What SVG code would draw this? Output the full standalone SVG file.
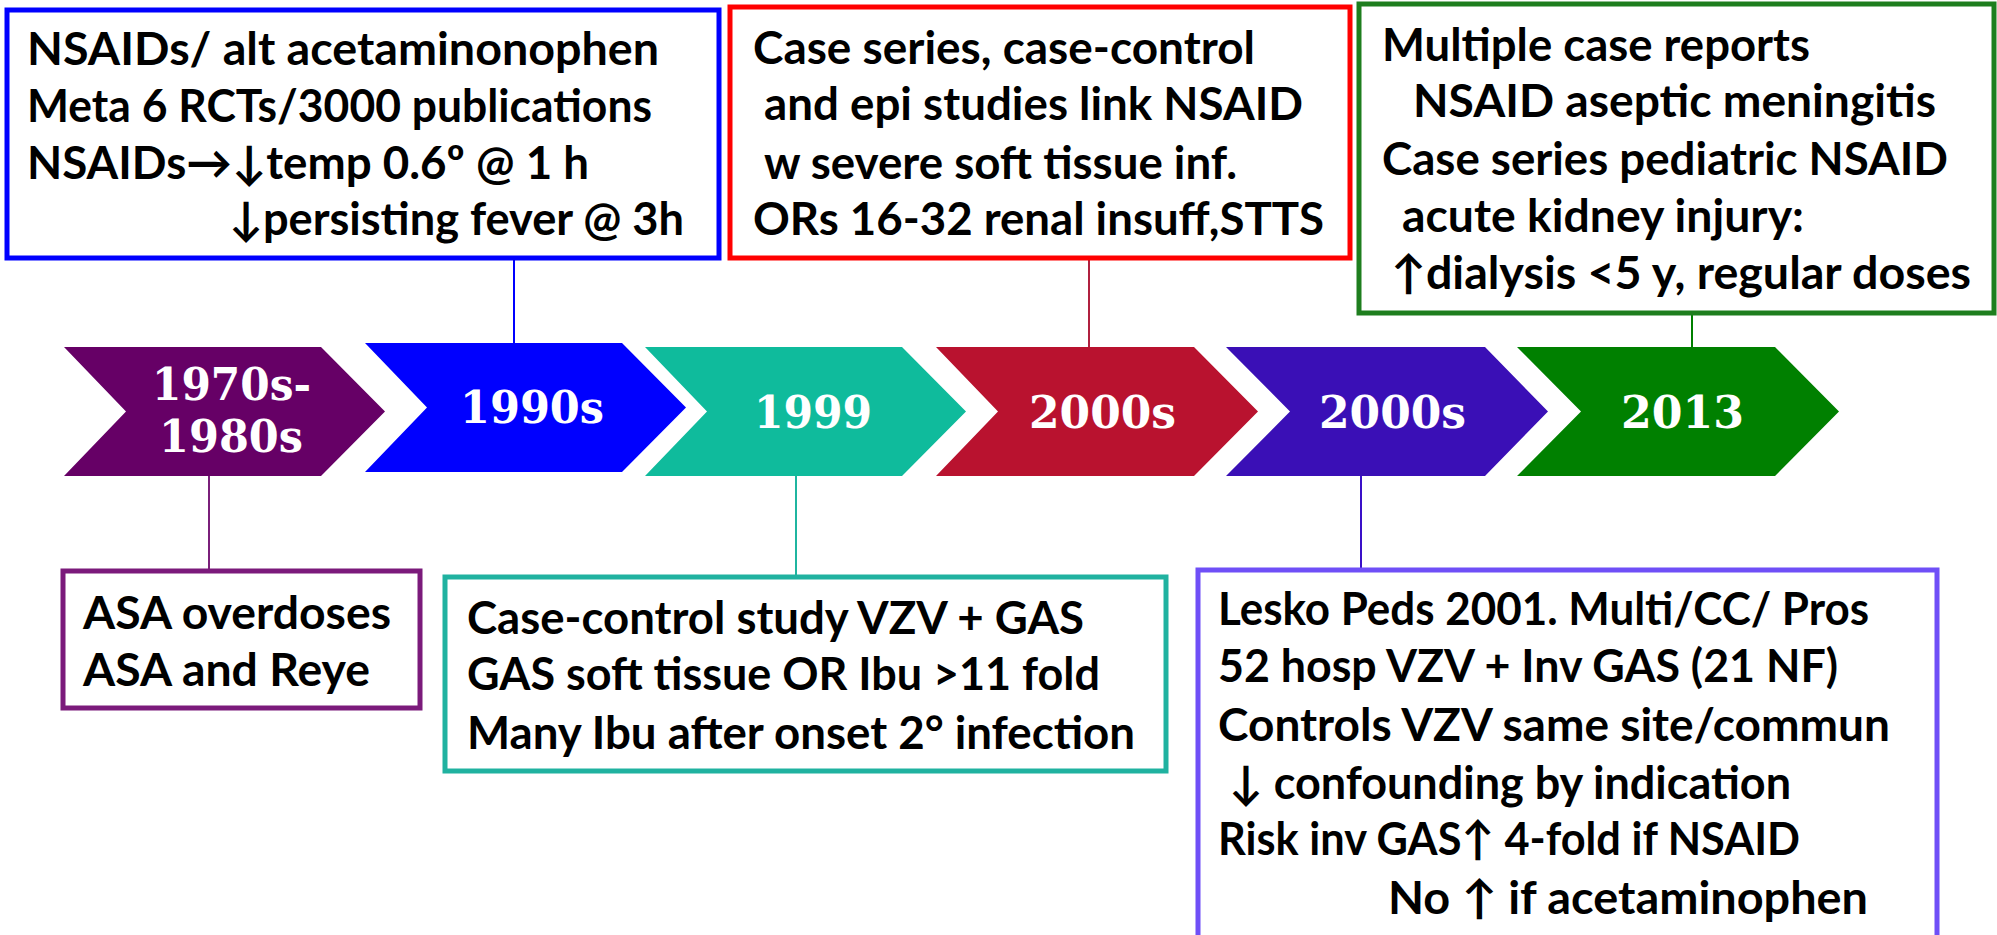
<svg xmlns="http://www.w3.org/2000/svg" width="1997" height="935" viewBox="0 0 1997 935">
<style>
.t{font-family:Lato,"Liberation Sans","DejaVu Sans",sans-serif;font-weight:bold;font-size:46px;fill:#000}
.c{font-family:"DejaVu Serif","Liberation Serif",serif;font-weight:bold;font-size:45px;fill:#fff}
.box{fill:#fff;stroke-width:5}
.ln{stroke-width:2;fill:none}
</style>
<rect width="1997" height="935" fill="#fff"/>

<g id="connectors">
<line class="ln" x1="209" y1="476" x2="209" y2="571" stroke="#7a1f7a"/>
<line class="ln" x1="514" y1="259" x2="514" y2="343" stroke="#0000ff"/>
<line class="ln" x1="796" y1="476" x2="796" y2="576" stroke="#1fb5a0"/>
<line class="ln" x1="1089" y1="258" x2="1089" y2="347" stroke="#b0203f"/>
<line class="ln" x1="1361" y1="476" x2="1361" y2="569" stroke="#3a10c8"/>
<line class="ln" x1="1692" y1="257" x2="1692" y2="347" stroke="#008000"/>
</g>

<g id="chev-1970s">
<path d="M64,347 H321 L385,411.5 L321,476 H64 L126,411.5 Z" fill="#660066"/>
<text class="c" x="152" y="400" textLength="159" lengthAdjust="spacingAndGlyphs">1970s-</text>
<text class="c" x="159" y="452" textLength="144" lengthAdjust="spacingAndGlyphs">1980s</text>
</g>
<g id="chev-1990s">
<path d="M365,343 H622 L686,407.5 L622,472 H365 L427,407.5 Z" fill="#0000ff"/>
<text class="c" x="460" y="423" textLength="144" lengthAdjust="spacingAndGlyphs">1990s</text>
</g>
<g id="chev-1999">
<path d="M645,347 H902 L966,411.5 L902,476 H645 L707,411.5 Z" fill="#0fbb9c"/>
<text class="c" x="754" y="428" textLength="118" lengthAdjust="spacingAndGlyphs">1999</text>
</g>
<g id="chev-2000s-a">
<path d="M936,347 H1194 L1258,411.5 L1194,476 H936 L998,411.5 Z" fill="#b9122f"/>
<text class="c" x="1029" y="428" textLength="147" lengthAdjust="spacingAndGlyphs">2000s</text>
</g>
<g id="chev-2000s-b">
<path d="M1226,347 H1485 L1548,411.5 L1485,476 H1226 L1290,411.5 Z" fill="#3a0fb6"/>
<text class="c" x="1319" y="428" textLength="147" lengthAdjust="spacingAndGlyphs">2000s</text>
</g>
<g id="chev-2013">
<path d="M1517,347 H1775 L1839,411.5 L1775,476 H1517 L1581,411.5 Z" fill="#008000"/>
<text class="c" x="1621" y="428" textLength="123" lengthAdjust="spacingAndGlyphs">2013</text>
</g>

<g id="box-1990s">
<rect class="box" x="7" y="10" width="712" height="248" stroke="#0000ff"/>
<text class="t" x="27" y="65" textLength="632" lengthAdjust="spacingAndGlyphs">NSAIDs/ alt  acetaminonophen</text>
<text class="t" x="27" y="122" textLength="625" lengthAdjust="spacingAndGlyphs">Meta 6 RCTs/3000 publications</text>
<text class="t" x="27" y="179" textLength="562" lengthAdjust="spacingAndGlyphs">NSAIDs→↓temp 0.6º @ 1 h</text>
<text class="t" x="229" y="235" textLength="455" lengthAdjust="spacingAndGlyphs">↓persisting fever @ 3h</text>
</g>

<g id="box-2000s-a">
<rect class="box" x="730" y="7" width="620" height="251" stroke="#ff0000"/>
<text class="t" x="753" y="64" textLength="502" lengthAdjust="spacingAndGlyphs">Case series, case-control</text>
<text class="t" x="764" y="120" textLength="539" lengthAdjust="spacingAndGlyphs">and epi studies link NSAID</text>
<text class="t" x="764" y="179" textLength="473" lengthAdjust="spacingAndGlyphs">w severe soft tissue inf.</text>
<text class="t" x="753" y="235" textLength="571" lengthAdjust="spacingAndGlyphs">ORs 16-32 renal insuff,STTS</text>
</g>

<g id="box-2013">
<rect class="box" x="1359" y="4" width="635" height="309" stroke="#1e7e1e"/>
<text class="t" x="1382" y="61" textLength="428" lengthAdjust="spacingAndGlyphs">Multiple case reports</text>
<text class="t" x="1413" y="117" textLength="523" lengthAdjust="spacingAndGlyphs">NSAID aseptic meningitis</text>
<text class="t" x="1382" y="175" textLength="566" lengthAdjust="spacingAndGlyphs">Case series pediatric NSAID</text>
<text class="t" x="1402" y="232" textLength="402" lengthAdjust="spacingAndGlyphs">acute kidney injury:</text>
<text class="t" x="1391" y="289" textLength="580" lengthAdjust="spacingAndGlyphs">↑dialysis &lt;5 y, regular doses</text>
</g>

<g id="box-1970s">
<rect class="box" x="63" y="571" width="357" height="137" stroke="#7b1a7b"/>
<text class="t" x="83" y="629" textLength="308" lengthAdjust="spacingAndGlyphs">ASA overdoses</text>
<text class="t" x="83" y="686" textLength="287" lengthAdjust="spacingAndGlyphs">ASA and Reye</text>
</g>

<g id="box-1999">
<rect class="box" x="445" y="577" width="721" height="194" stroke="#20b2a0"/>
<text class="t" x="467" y="634" textLength="617" lengthAdjust="spacingAndGlyphs">Case-control study VZV + GAS</text>
<text class="t" x="467" y="690" textLength="633" lengthAdjust="spacingAndGlyphs">GAS soft tissue OR Ibu &gt;11 fold</text>
<text class="t" x="467" y="749" textLength="668" lengthAdjust="spacingAndGlyphs">Many Ibu after onset 2° infection</text>
</g>

<g id="box-2000s-b">
<rect class="box" x="1198" y="570" width="739" height="380" stroke="#6f4ff7"/>
<text class="t" x="1218" y="625" textLength="651" lengthAdjust="spacingAndGlyphs">Lesko Peds 2001. Multi/CC/ Pros</text>
<text class="t" x="1218" y="682" textLength="620" lengthAdjust="spacingAndGlyphs">52 hosp VZV + Inv GAS (21 NF)</text>
<text class="t" x="1218" y="741" textLength="672" lengthAdjust="spacingAndGlyphs">Controls VZV same site/commun</text>
<text class="t" x="1229" y="799" textLength="562" lengthAdjust="spacingAndGlyphs">↓ confounding by indication</text>
<text class="t" x="1218" y="855" textLength="582" lengthAdjust="spacingAndGlyphs">Risk inv GAS↑ 4-fold if NSAID</text>
<text class="t" x="1388" y="914" textLength="480" lengthAdjust="spacingAndGlyphs">No ↑ if acetaminophen</text>
</g>
</svg>
